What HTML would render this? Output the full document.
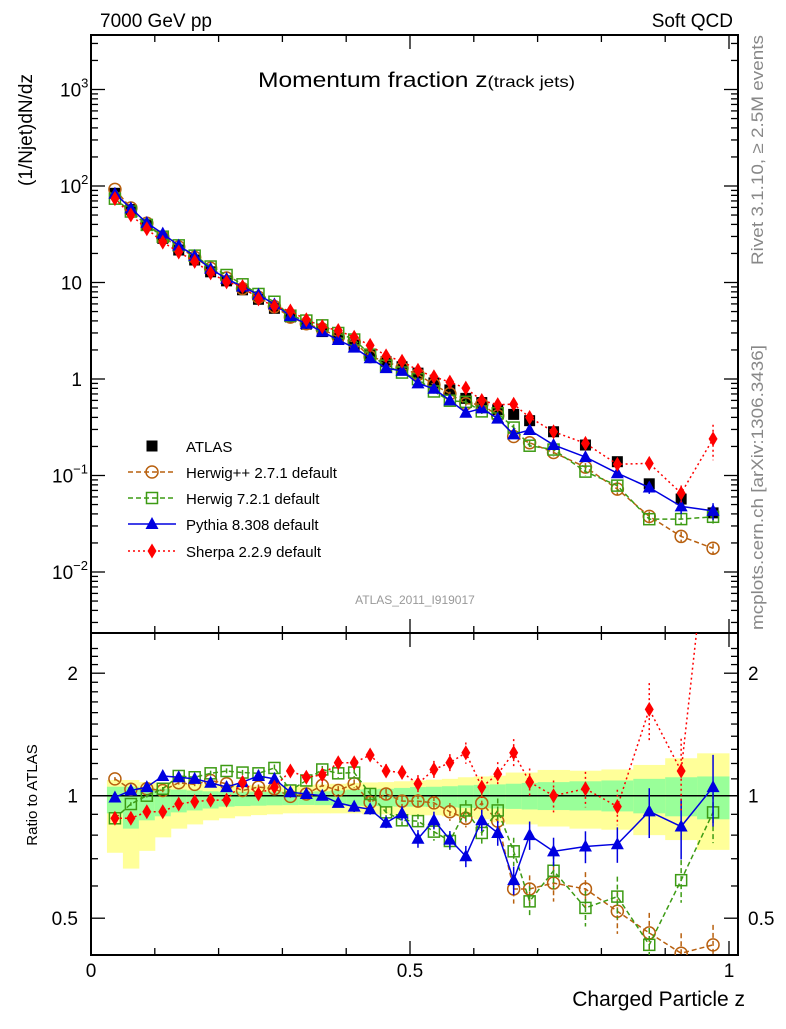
<!DOCTYPE html>
<html><head><meta charset="utf-8">
<style>
html,body{margin:0;padding:0;background:#fff;}
body{width:786px;height:1024px;overflow:hidden;font-family:"Liberation Sans",sans-serif;}
svg text{font-family:"Liberation Sans","DejaVu Sans",sans-serif;}
</style></head>
<body>
<svg id="chart" width="786" height="1024" viewBox="0 0 786 1024" xmlns="http://www.w3.org/2000/svg">
<text x="100" y="27" font-size="19">7000 GeV pp</text>
<text x="733" y="27" font-size="19" text-anchor="end">Soft QCD</text>
<text x="258" y="87" font-size="21" textLength="317" lengthAdjust="spacingAndGlyphs">Momentum fraction <tspan font-size="21">z</tspan><tspan font-size="16">(track jets)</tspan></text>
<text transform="translate(32,130) rotate(-90)" font-size="19" text-anchor="middle">(1/Njet)dN/dz</text>
<text transform="translate(37,795) rotate(-90)" font-size="15" text-anchor="middle">Ratio to ATLAS</text>
<text x="745" y="1006" font-size="21" text-anchor="end">Charged Particle z</text>
<text transform="translate(763,265) rotate(-90)" font-size="17" fill="#888" textLength="230" lengthAdjust="spacingAndGlyphs">Rivet 3.1.10, ≥ 2.5M events</text>
<text transform="translate(763,630) rotate(-90)" font-size="17" fill="#888" textLength="285" lengthAdjust="spacingAndGlyphs">mcplots.cern.ch [arXiv:1306.3436]</text>
<text x="415" y="604" font-size="12" fill="#999" text-anchor="middle">ATLAS_2011_I919017</text>
<g id="bands"></g>
<g id="axes"></g>
<g id="series"></g>
<g id="legend"></g>
</svg>
<script>
const zCenters=[0.0375,0.0625,0.0875,0.1125,0.1375,0.1625,0.1875,0.2125,0.2375,0.2625,0.2875,0.3125,0.3375,0.3625,0.3875,0.4125,0.4375,0.4625,0.4875,0.5125,0.5375,0.5625,0.5875,0.6125,0.6375,0.6625,0.6875,0.725,0.775,0.825,0.875,0.925,0.975];
const binLo=[0.025,0.05,0.075,0.1,0.125,0.15,0.175,0.2,0.225,0.25,0.275,0.3,0.325,0.35,0.375,0.4,0.425,0.45,0.475,0.5,0.525,0.55,0.575,0.6,0.625,0.65,0.675,0.7,0.75,0.8,0.85,0.9,0.95];
const binHi=[0.05,0.075,0.1,0.125,0.15,0.175,0.2,0.225,0.25,0.275,0.3,0.325,0.35,0.375,0.4,0.425,0.45,0.475,0.5,0.525,0.55,0.575,0.6,0.625,0.65,0.675,0.7,0.75,0.8,0.85,0.9,0.95,1.0];
const atlas=[84,57,39.5,28.7,21.7,17.1,12.9,10.4,8.4,6.7,5.4,4.4,3.7,3.1,2.64,2.25,1.77,1.51,1.34,1.15,0.91,0.77,0.63,0.57,0.48,0.43,0.37,0.284,0.207,0.139,0.082,0.057,0.041];
const ratioHerwigPP=[1.10,1.037,1.04,1.03,1.076,1.066,1.09,1.07,1.03,1.05,1.04,0.996,1.01,1.06,1.03,1.07,0.963,1.01,0.97,0.97,0.96,0.913,0.88,0.96,0.866,0.59,0.59,0.61,0.59,0.52,0.46,0.41,0.43];
const ratioHerwig7=[0.88,0.954,1.0,1.04,1.118,1.11,1.135,1.15,1.14,1.135,1.17,1.03,1.09,1.16,1.135,1.14,1.01,0.91,0.87,0.866,0.816,0.774,0.92,0.81,0.92,0.73,0.55,0.654,0.53,0.565,0.43,0.62,0.91];
const ratioPythia=[0.99,1.03,1.05,1.118,1.11,1.10,1.076,1.05,1.08,1.118,1.10,1.02,1.01,1.0,0.96,0.94,0.926,0.858,0.905,0.784,0.87,0.78,0.71,0.87,0.81,0.62,0.80,0.73,0.75,0.76,0.915,0.84,1.05];
const ratioSherpa=[0.88,0.88,0.913,0.913,0.954,0.967,0.975,0.975,1.078,1.01,1.05,1.15,1.11,1.125,1.205,1.205,1.259,1.15,1.14,1.07,1.16,1.205,1.275,1.05,1.13,1.275,1.08,1.0,1.04,0.94,1.63,1.15,5.85];
const errHerwigPP=[0.01,0.01,0.01,0.01,0.01,0.01,0.01,0.015,0.015,0.015,0.02,0.02,0.02,0.02,0.025,0.025,0.03,0.03,0.03,0.04,0.04,0.05,0.05,0.06,0.07,0.08,0.08,0.1,0.1,0.12,0.12,0.12,0.12];
const errHerwig7=[0.01,0.01,0.01,0.01,0.01,0.01,0.015,0.015,0.015,0.02,0.02,0.02,0.02,0.02,0.025,0.025,0.03,0.03,0.04,0.04,0.05,0.05,0.06,0.06,0.07,0.08,0.09,0.1,0.1,0.12,0.1,0.12,0.16];
const errPythia=[0.01,0.01,0.01,0.01,0.01,0.01,0.01,0.015,0.015,0.015,0.02,0.02,0.02,0.02,0.025,0.03,0.03,0.03,0.04,0.05,0.05,0.05,0.06,0.06,0.07,0.08,0.08,0.08,0.09,0.1,0.14,0.17,0.2];
const errSherpa=[0.01,0.01,0.01,0.01,0.01,0.01,0.01,0.015,0.015,0.015,0.02,0.02,0.02,0.03,0.03,0.03,0.03,0.04,0.04,0.05,0.05,0.05,0.06,0.06,0.07,0.08,0.08,0.09,0.1,0.1,0.16,0.2,0.4];
const yellowHi=[1.093,1.093,1.08,1.075,1.073,1.07,1.066,1.063,1.063,1.06,1.06,1.06,1.063,1.066,1.07,1.075,1.078,1.08,1.085,1.09,1.095,1.10,1.11,1.115,1.12,1.14,1.14,1.157,1.152,1.16,1.19,1.236,1.271];
const yellowLo=[0.724,0.662,0.732,0.79,0.83,0.85,0.87,0.88,0.89,0.896,0.90,0.905,0.905,0.905,0.905,0.905,0.90,0.90,0.896,0.895,0.895,0.89,0.885,0.875,0.86,0.85,0.85,0.84,0.83,0.825,0.80,0.778,0.736];
const greenHi=[1.052,1.052,1.045,1.04,1.035,1.03,1.025,1.023,1.023,1.023,1.023,1.023,1.023,1.025,1.03,1.035,1.037,1.04,1.045,1.05,1.052,1.055,1.06,1.063,1.066,1.07,1.075,1.08,1.085,1.09,1.10,1.11,1.115];
const greenLo=[0.905,0.83,0.87,0.89,0.91,0.92,0.93,0.94,0.943,0.945,0.947,0.948,0.949,0.948,0.947,0.945,0.943,0.942,0.94,0.94,0.938,0.936,0.934,0.932,0.93,0.928,0.925,0.922,0.92,0.915,0.905,0.89,0.875];
const mainTickLabels=["10","1"];
const ratioTickValues=[2,1,0.5];
const ratioTickLabels=["2","1","0.5"];
const xTickValues=[0,0.5,1];
const xTickLabels=["0","0.5","1"];

const NS="http://www.w3.org/2000/svg";
const L=91,R=738,T=35,MB=633,RB=955;
const xS=z=>91+z*638;
const yM=v=>186-(Math.log10(v)-2)*96.5;
const yR=r=>795.7-Math.log2(r)*122.5;
function mk(tag,attrs,parent){const e=document.createElementNS(NS,tag);for(const k in attrs)e.setAttribute(k,attrs[k]);parent.appendChild(e);return e;}
const bands=document.getElementById('bands'),axes=document.getElementById('axes'),ser=document.getElementById('series'),leg=document.getElementById('legend');

for(let i=0;i<binLo.length;i++){
  const x0=xS(binLo[i]),x1=xS(binHi[i]);
  let e=mk('rect',{x:x0,y:yR(yellowHi[i]),width:x1-x0+0.5,height:yR(yellowLo[i])-yR(yellowHi[i]),fill:'#ffff99'},bands);
  
  
  e=mk('rect',{x:x0,y:yR(greenHi[i]),width:x1-x0+0.5,height:yR(greenLo[i])-yR(greenHi[i]),fill:'#99ff99'},bands);
  
  
}
let f=mk('rect',{x:L,y:T,width:R-L,height:MB-T,fill:'none',stroke:'#000','stroke-width':2},axes);


f=mk('rect',{x:L,y:MB,width:R-L,height:RB-MB,fill:'none',stroke:'#000','stroke-width':2},axes);


let ref=mk('line',{x1:L,x2:R,y1:yR(1),y2:yR(1),stroke:'#000','stroke-width':1.5},axes);


for(let d=-3;d<=3;d++){for(let m=1;m<10;m++){const v=m*Math.pow(10,d);const y=yM(v);if(y<T||y>MB)continue;const len=m==1?14:7;
  mk('line',{x1:L,x2:L+len,y1:y,y2:y,stroke:'#000','stroke-width':1.3},axes);
  mk('line',{x1:R-len,x2:R,y1:y,y2:y,stroke:'#000','stroke-width':1.3},axes);}}
const powLabels=[[3,'10','3'],[2,'10','2'],[-1,'10','−1'],[-2,'10','−2']];
powLabels.forEach(p=>{const t=mk('text',{x:p[2].length>1?52:60,y:yM(Math.pow(10,p[0]))+7,'font-size':19},axes);t.textContent=p[1];
  const s=mk('tspan',{dy:-9,'font-size':13},t);s.textContent=p[2];
  
  });
[[10,mainTickLabels[0]],[1,mainTickLabels[1]]].forEach(p=>{const t=mk('text',{x:82,y:yM(p[0])+7,'font-size':19,'text-anchor':'end'},axes);t.textContent=p[1];
  
  });
for(let r=0.6;r<=2.4;r+=0.1){const y=yR(r);if(y<MB||y>RB)continue;const maj=Math.abs(r-1)<1e-6||Math.abs(r-2)<1e-6;
  mk('line',{x1:L,x2:L+(maj?14:7),y1:y,y2:y,stroke:'#000','stroke-width':1.3},axes);
  mk('line',{x1:R-(maj?14:7),x2:R,y1:y,y2:y,stroke:'#000','stroke-width':1.3},axes);}
mk('line',{x1:L,x2:L+14,y1:yR(0.5),y2:yR(0.5),stroke:'#000','stroke-width':1.3},axes);
mk('line',{x1:R-14,x2:R,y1:yR(0.5),y2:yR(0.5),stroke:'#000','stroke-width':1.3},axes);
ratioTickValues.forEach((v,i)=>{let t=mk('text',{x:78,y:yR(v)+7,'font-size':19,'text-anchor':'end'},axes);t.textContent=ratioTickLabels[i];
  
  
  t=mk('text',{x:748,y:yR(v)+7,'font-size':19},axes);t.textContent=ratioTickLabels[i];
  
  });
for(let k=0;k<=10;k++){const z=k/10,x=xS(z),len=(k%5==0)?14:7;
  mk('line',{x1:x,x2:x,y1:MB,y2:MB-len,stroke:'#000','stroke-width':1.3},axes);
  mk('line',{x1:x,x2:x,y1:T,y2:T+len,stroke:'#000','stroke-width':1.3},axes);
  mk('line',{x1:x,x2:x,y1:RB,y2:RB-len,stroke:'#000','stroke-width':1.3},axes);
  mk('line',{x1:x,x2:x,y1:MB,y2:MB+len,stroke:'#000','stroke-width':1.3},axes);}
xTickValues.forEach((v,i)=>{const t=mk('text',{x:xS(v),y:977,'font-size':19,'text-anchor':'middle'},axes);t.textContent=xTickLabels[i];
  
  });

function marker(g,type,x,y,col){
  if(type=='circle')return mk('circle',{cx:x,cy:y,r:6,fill:'none',stroke:col,'stroke-width':1.5},g);
  if(type=='square')return mk('rect',{x:x-5.5,y:y-5.5,width:11,height:11,fill:'none',stroke:col,'stroke-width':1.5},g);
  if(type=='tri')return mk('polygon',{points:`${x},${y-7} ${x-6.5},${y+5} ${x+6.5},${y+5}`,fill:col},g);
  if(type=='diamond')return mk('polygon',{points:`${x},${y-7.5} ${x-4.5},${y} ${x},${y+7.5} ${x+4.5},${y}`,fill:col},g);
  return mk('rect',{x:x-5.5,y:y-5.5,width:11,height:11,fill:col},g);
}
const series=[
 {name:'herwigpp',ratio:ratioHerwigPP,err:errHerwigPP,col:'#b8600f',m:'circle',dash:'5,3'},
 {name:'herwig7',ratio:ratioHerwig7,err:errHerwig7,col:'#3d9b14',m:'square',dash:'5,3'},
 {name:'pythia',ratio:ratioPythia,err:errPythia,col:'#0000e0',m:'tri',dash:''},
 {name:'sherpa',ratio:ratioSherpa,err:errSherpa,col:'#ff0000',m:'diamond',dash:'2,3'}];
const clipR=mk('clipPath',{id:'cr'},ser);mk('rect',{x:L,y:MB,width:R-L,height:RB-MB},clipR);
const gA=mk('g',{},ser);


atlas.forEach((v,i)=>{const e=marker(gA,'fill',xS(zCenters[i]),yM(v),'#000');
  
  });
series.forEach(s=>{
  const gm=mk('g',{},ser);
  
  
  const gr=mk('g',{'clip-path':'url(#cr)'},ser);
  
  
  let pm=[],pr=[];
  s.ratio.forEach((r,i)=>{const x=xS(zCenters[i]);pm.push(x+','+yM(atlas[i]*r));pr.push(x+','+yR(r));});
  mk('polyline',{points:pm.join(' '),fill:'none',stroke:s.col,'stroke-width':1.5,'stroke-dasharray':s.dash},gm);
  mk('polyline',{points:pr.join(' '),fill:'none',stroke:s.col,'stroke-width':1.5,'stroke-dasharray':s.dash},gr);
  s.ratio.forEach((r,i)=>{const x=xS(zCenters[i]);
    const up=r*(1+s.err[i]),dn=r*(1-s.err[i]);
    mk('line',{x1:x,x2:x,y1:yR(up),y2:yR(dn),stroke:s.col,'stroke-width':1.5,'stroke-dasharray':s.dash},gr);
    mk('line',{x1:x,x2:x,y1:yM(atlas[i]*up),y2:yM(atlas[i]*dn),stroke:s.col,'stroke-width':1.5,'stroke-dasharray':s.dash},gm);
    let e=marker(gm,s.m,x,yM(atlas[i]*r),s.col);
    
    
    e=marker(gr,s.m,x,yR(r),s.col);
    
    });
});
const legNames=['ATLAS','Herwig++ 2.7.1 default','Herwig 7.2.1 default','Pythia 8.308 default','Sherpa 2.2.9 default'];
const legY=[446,472,498,524,551];
legNames.forEach((n,i)=>{const g=mk('g',{},leg);
  
  
  if(i==0){marker(g,'fill',152,legY[i],'#000');}
  else{const s=series[i-1];mk('line',{x1:128,x2:176,y1:legY[i],y2:legY[i],stroke:s.col,'stroke-width':1.5,'stroke-dasharray':s.dash},g);marker(g,s.m,152,legY[i],s.col);}
  const t=mk('text',{x:186,y:legY[i]+6,'font-size':15},g);t.textContent=n;});
</script>
</body></html>
